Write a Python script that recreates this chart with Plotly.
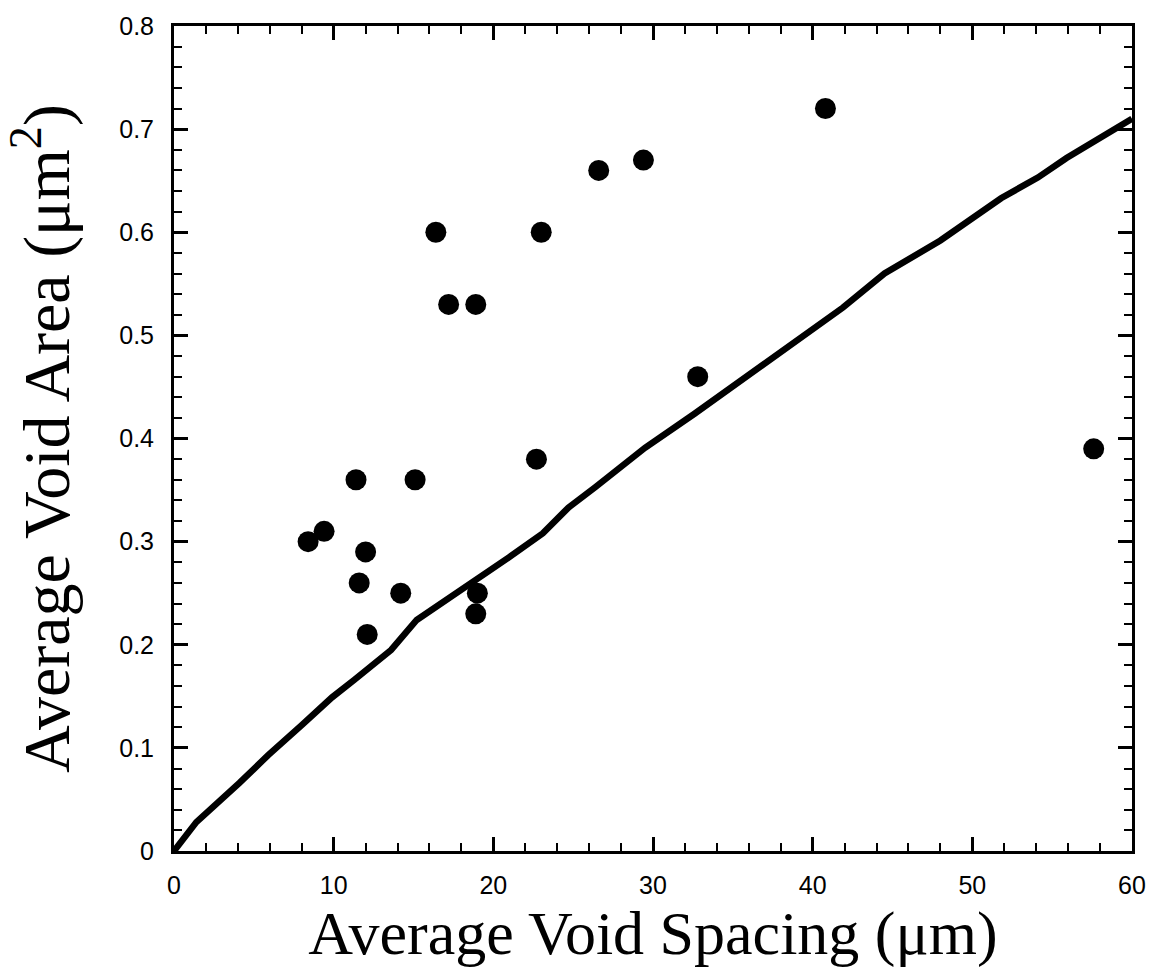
import plotly.graph_objects as go

# Scatter data: average void spacing (um) vs average void area (um^2)
spacing = [8.4, 9.4, 11.4, 12.0, 11.6, 12.1, 14.2, 15.1, 16.4, 17.2, 18.9,
           19.0, 18.9, 23.0, 22.7, 26.6, 29.4, 32.8, 40.8, 57.6]
area = [0.30, 0.31, 0.36, 0.29, 0.26, 0.21, 0.25, 0.36, 0.60, 0.53, 0.53,
        0.25, 0.23, 0.60, 0.38, 0.66, 0.67, 0.46, 0.72, 0.39]

# Model curve
curve_x = [0, 0.2, 1.4, 4.1, 5.9, 8.0, 9.9, 11.3, 13.6, 15.2, 17.3, 18.9,
           21.0, 23.1, 24.7, 26.4, 29.5, 32.6, 35.5, 36.7, 38.8, 41.9, 44.5,
           48.0, 51.8, 54.1, 55.9, 58.4, 60]
curve_y = [0, 0.004, 0.028, 0.066, 0.093, 0.122, 0.149, 0.166, 0.195, 0.224,
           0.246, 0.262, 0.285, 0.308, 0.333, 0.353, 0.391, 0.424, 0.456,
           0.468, 0.492, 0.527, 0.560, 0.592, 0.633, 0.653, 0.672, 0.695, 0.710]

x_ticks = [0, 10, 20, 30, 40, 50, 60]
y_ticks = [0, 0.1, 0.2, 0.3, 0.4, 0.5, 0.6, 0.7, 0.8]

fig = go.Figure()
fig.add_trace(go.Scatter(x=curve_x, y=curve_y, mode="lines",
                         line=dict(color="black", width=6.5), showlegend=False))
fig.add_trace(go.Scatter(x=spacing, y=area, mode="markers",
                         marker=dict(color="black", size=21), showlegend=False))

tick_font = dict(family="Liberation Sans, Arial", size=25, color="black")
xtitle_font = dict(family="Liberation Serif, Times New Roman", size=62, color="black")
ytitle_font = dict(family="Liberation Serif, Times New Roman", size=66, color="black")

fig.update_layout(
    width=1158, height=970,
    margin=dict(l=174, r=15, t=25, b=119),
    plot_bgcolor="white", paper_bgcolor="white",
    xaxis=dict(
        range=[0, 60], tickvals=x_ticks, ticks="inside", ticklen=14, tickwidth=2.5,
        tickcolor="black", showline=True, linecolor="black", linewidth=3,
        mirror="ticks", showgrid=False, zeroline=False, tickfont=tick_font,
        ticklabelstandoff=10,
        minor=dict(dtick=2, ticks="inside", ticklen=8, tickwidth=2, tickcolor="black", showgrid=False),
        title=dict(text="Average Void Spacing (μm)", font=xtitle_font, standoff=4),
    ),
    yaxis=dict(
        range=[0, 0.8], tickvals=y_ticks, ticktext=[("0" if v == 0 else f"{v:.1f}") for v in y_ticks],
        ticks="inside", ticklen=14, tickwidth=2.5,
        tickcolor="black", showline=True, linecolor="black", linewidth=3,
        mirror="ticks", showgrid=False, zeroline=False, tickfont=tick_font,
        ticklabelstandoff=12,
        minor=dict(dtick=0.02, ticks="inside", ticklen=8, tickwidth=2, tickcolor="black", showgrid=False),
        title=dict(text="Average Void Area (μm<sup>2</sup>)", font=ytitle_font, standoff=30),
    ),
)

fig.write_html("out.html")
